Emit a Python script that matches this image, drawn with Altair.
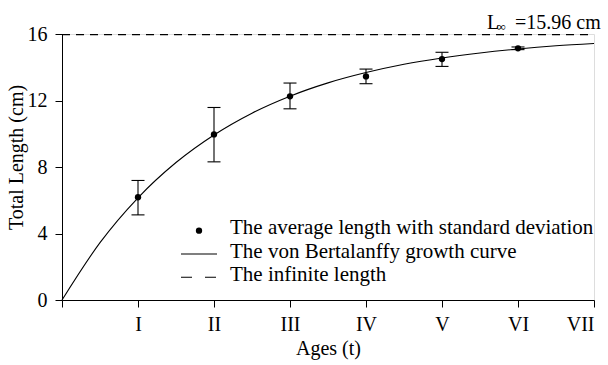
import json
import altair as alt
import pandas as pd

# ---- data ----
ages = [1, 2, 3, 4, 5, 6]
mean_len = [6.18, 9.96, 12.25, 13.45, 14.49, 15.14]
sd_upper = [7.19, 11.58, 13.05, 13.89, 14.90, 15.22]
sd_lower = [5.12, 8.31, 11.50, 13.01, 14.05, 15.06]

curve_t = [0, 0.5, 1, 1.5, 2, 2.5, 3, 3.5, 4, 4.5, 5, 5.5, 6, 6.5, 7]
curve_len = [0, 3.45, 6.15, 8.27, 9.93, 11.24, 12.26, 13.06, 13.68, 14.18,
             14.56, 14.86, 15.10, 15.29, 15.43]

l_inf = 15.96
age_max = 7
roman = ["", "I", "II", "III", "IV", "V", "VI", "VII"]
legend_labels = [
    "The average length with standard deviation",
    "The von Bertalanffy growth curve",
    "The infinite length",
]

FONT = "Liberation Serif"
FS = 20

obs = pd.DataFrame({"age": ages, "mean": mean_len, "up": sd_upper, "lo": sd_lower})
curve = pd.DataFrame({"t": curve_t, "L": curve_len})
inf = pd.DataFrame({"x0": [0], "x1": [age_max], "L": [l_inf]})

xscale = alt.Scale(domain=[0, age_max], nice=False, zero=False)
yscale = alt.Scale(domain=[0, 16], nice=False)

x_axis = alt.Axis(
    values=list(range(0, age_max + 1)),
    labelExpr=json.dumps(roman) + "[datum.value]",
    title="Ages (t)",
    grid=False,
    tickSize=7,
    labelPadding=7,
    titlePadding=4,
    domainColor="black", tickColor="black",
    labelColor="black", titleColor="black",
    labelFont=FONT, labelFontSize=FS,
    titleFont=FONT, titleFontSize=FS, titleFontWeight="normal",
    domainWidth=1, tickWidth=1,
)
y_axis = alt.Axis(
    values=[0, 2, 4, 6, 8, 10, 12, 14, 16],
    labelExpr="datum.value % 4 === 0 ? datum.label : ''",
    title="Total Length (cm)",
    grid=False,
    tickSize={"condition": {"test": "datum.value % 4 === 0", "value": 7}, "value": 4},
    labelPadding=8,
    titleX=-36, titleY=123,
    domainColor="black", tickColor="black",
    labelColor="black", titleColor="black",
    labelFont=FONT, labelFontSize=FS,
    titleFont=FONT, titleFontSize=FS, titleFontWeight="normal",
    domainWidth=1, tickWidth=1,
)

line = alt.Chart(curve).mark_line(color="black", strokeWidth=1.1, interpolate="monotone").encode(
    x=alt.X("t:Q", scale=xscale, axis=x_axis),
    y=alt.Y("L:Q", scale=yscale, axis=y_axis),
)

dash = alt.Chart(inf).mark_rule(color="black", strokeWidth=1.1, strokeDash=[8, 6], opacity=1).encode(
    x="x0:Q", x2="x1:Q", y="L:Q"
)

bars = alt.Chart(obs).mark_rule(color="black", strokeWidth=1.1, opacity=1).encode(
    x="age:Q", y="lo:Q", y2="up:Q"
)
caps = alt.Chart(obs).transform_fold(["up", "lo"], as_=["k", "v"]).mark_tick(
    orient="horizontal", color="black", size=13, thickness=1.1, opacity=1
).encode(x="age:Q", y="v:Q")

dots = alt.Chart(obs).mark_point(filled=True, color="black", size=40, opacity=1).encode(
    x="age:Q", y="mean:Q"
)

ann_eq = alt.Chart(inf).mark_text(
    text="=15.96 cm", align="left", baseline="alphabetic", dx=-79, dy=-5.5,
    font=FONT, fontSize=20, color="black"
).encode(x="x1:Q", y="L:Q")
ann_L = alt.Chart(inf).mark_text(
    text="L", align="left", baseline="alphabetic", dx=-107, dy=-5.5,
    font=FONT, fontSize=20, color="black"
).encode(x="x1:Q", y="L:Q")
ann_inf = alt.Chart(inf).mark_text(
    text="∞", align="left", baseline="alphabetic", dx=-97.5, dy=-3.5,
    font=FONT, fontSize=13, color="black"
).encode(x="x1:Q", y="L:Q")

# ---- legend (drawn as a small key inside the plot) ----
LEG_SYM_X0, LEG_SYM_X1, LEG_DOT_X, LEG_TEXT_X = 119, 155, 137, 168
LEG_SYM_Y0, LEG_TEXT_Y0, LEG_DY = 196.7, 200.3, 23.3
one = pd.DataFrame({"k": [0]})

leg_texts = [
    alt.Chart(pd.DataFrame({"label": [lab]})).mark_text(
        align="left", baseline="alphabetic", font=FONT, fontSize=21, color="black"
    ).encode(text="label:N", x=alt.value(LEG_TEXT_X), y=alt.value(LEG_TEXT_Y0 + LEG_DY * i))
    for i, lab in enumerate(legend_labels)
]
leg_dot = alt.Chart(one).mark_point(filled=True, color="black", size=40, opacity=1).encode(
    x=alt.value(LEG_DOT_X), y=alt.value(LEG_SYM_Y0)
)
leg_solid = alt.Chart(one).mark_rule(color="black", strokeWidth=1.1).encode(
    x=alt.value(LEG_SYM_X0), x2=alt.value(LEG_SYM_X1), y=alt.value(LEG_SYM_Y0 + LEG_DY)
)
leg_dash = alt.Chart(one).mark_rule(color="black", strokeWidth=1.1, strokeDash=[11, 13]).encode(
    x=alt.value(LEG_SYM_X0), x2=alt.value(LEG_SYM_X1 - 1), y=alt.value(LEG_SYM_Y0 + 2 * LEG_DY)
)

chart = alt.layer(
    line, dash, bars, caps, dots, ann_eq, ann_L, ann_inf,
    leg_dot, leg_solid, leg_dash, *leg_texts
).properties(
    width=532, height=266,
    autosize="none",
    padding={"left": 62, "top": 34, "right": 14, "bottom": 65},
).configure_view(stroke=None).configure(background="white", font=FONT)

chart.save("out.html", embed_options={"renderer": "svg", "actions": False})
